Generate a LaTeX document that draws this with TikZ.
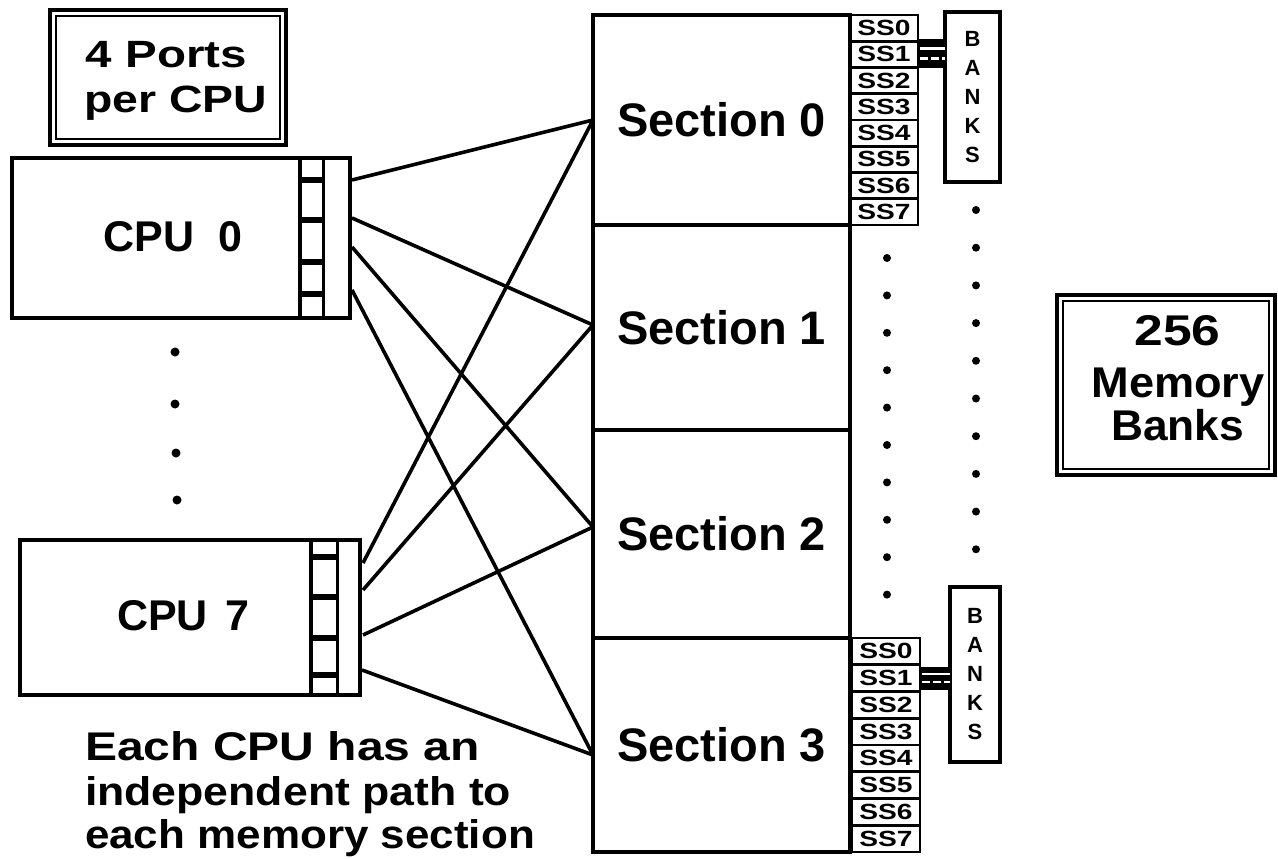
\documentclass[tikz,border=0pt]{standalone}
\usepackage{fontspec}
\setmainfont{Liberation Sans}
\usepackage{graphicx}
\usetikzlibrary{calc}
\newcommand{\wide}[2]{\scalebox{#1}[1]{#2}}
\tikzset{
  every node/.style={inner sep=0pt, outer sep=0pt},
  box/.style={draw, line width=3.5pt},
  cell/.style={draw, line width=2.8pt, minimum width=68pt, font=\fontsize{22}{24}\selectfont\bfseries},
  secbox/.style={box, minimum width=257pt, font=\fontsize{47}{50}\selectfont\bfseries},
  banksbox/.style={box, align=center, font=\fontsize{22}{29}\selectfont\bfseries},
  big/.style={font=\fontsize{43}{44}\selectfont\bfseries},
  link/.style={line width=3.6pt},
  dot/.style={fill=black},
}
\begin{document}
\begin{tikzpicture}[x=1pt,y=-1pt]
\useasboundingbox (0,0) rectangle (1278,859);

% ---- label box: ports per CPU
\node[box, line width=4pt, minimum width=236pt, minimum height=135pt] (ports) at (168,77.5) {};
\draw[line width=1.8pt] ($(ports.north west)+(6,6)$) rectangle ($(ports.south east)+(-6,-6)$);
\node[font=\fontsize{38}{44}\selectfont\bfseries, anchor=base] (portsA) at (166.5,68) {\wide{1.25}{4 Ports}};
\node[font=\fontsize{38}{44}\selectfont\bfseries, anchor=base] (portsB) at (175.5,112) {\wide{1.22}{per CPU}};

% ---- CPU 0
\node[box, minimum width=338pt, minimum height=160pt] (cpu0) at (181,238) {};
\node[big] (cpu0t) at (173,237) {CPU\hspace{24pt}0};
\draw[line width=4.5pt] (300,158) -- (300,318);
\draw[line width=3pt] (323,158) -- (323,318);
\foreach \y in {180,220,262,294} \draw[line width=5.5pt] (300,\y) -- (323,\y);

% ---- CPU 7
\node[box, minimum width=340pt, minimum height=155pt] (cpu7) at (190,617.5) {};
\node[big] (cpu7t) at (183.5,616) {CPU\hspace{18pt}7};
\draw[line width=4.5pt] (311,540) -- (311,695);
\draw[line width=3pt] (337,540) -- (337,695);
\foreach \y in {557,597,638,675} \draw[line width=5.5pt] (311,\y) -- (337,\y);

% ---- dots between the CPUs
\foreach \x/\y [count=\k] in {175/352,175/404,176/453,177/500}
  \fill[dot] (\x,\y) circle (4.5pt) coordinate (cdot\k);

% ---- memory sections
\node[secbox, minimum height=210pt] (sec0) at (721.5,120) {Section 0};
\node[secbox, minimum height=205pt] (sec1) at (721.5,327.5) {Section 1};
\node[secbox, minimum height=208pt] (sec2) at (721.5,534) {Section 2};
\node[secbox, minimum height=214pt] (sec3) at (721.5,745) {Section 3};

% ---- subsection cells
\foreach \i in {0,...,7} {
  \node[cell, minimum height=26.25pt] (ssa\i) at (884,{28.125+26.25*\i}) {\wide{1.28}{SS\i}};
  \node[cell, minimum height=26.75pt] (ssb\i) at (886,{651.375+26.75*\i}) {\wide{1.28}{SS\i}};
}

% ---- bank columns
\node[banksbox, minimum width=55pt, minimum height=170pt] (banksA) at (972.5,97) {B\\A\\N\\K\\S};
\node[banksbox, minimum width=50pt, minimum height=175pt] (banksB) at (975,674.5) {B\\A\\N\\K\\S};

% ---- buses from SS1 to the banks
\coordinate (busA1) at ($(ssa1.east)+(0,-15)$);
\coordinate (busA2) at ($(ssa1.east)+(0,14)$);
\coordinate (wA1) at ($(ssa1.east)+(2,-6)$);
\coordinate (wA2) at (wA1 -| banksA.west);
\coordinate (wA3) at ($(ssa1.east)+(2,4)$);
\coordinate (wA4) at (wA3 -| banksA.west);
\fill (busA1) rectangle (busA2 -| banksA.west);
\draw[white, line width=2.5pt] (wA1) -- (wA2);
\draw[white, line width=2.5pt, dash pattern=on 8pt off 3pt] (wA3) -- (wA4);

\coordinate (busB1) at ($(ssb1.east)+(0,-11)$);
\coordinate (busB2) at ($(ssb1.east)+(0,12)$);
\coordinate (wB1) at ($(ssb1.east)+(2,-4)$);
\coordinate (wB2) at (wB1 -| banksB.west);
\coordinate (wB3) at ($(ssb1.east)+(2,4)$);
\coordinate (wB4) at (wB3 -| banksB.west);
\fill (busB1) rectangle (busB2 -| banksB.west);
\draw[white, line width=2.5pt] (wB1) -- (wB2);
\draw[white, line width=2.5pt, dash pattern=on 8pt off 3pt] (wB3) -- (wB4);

% ---- dotted columns (subsections and banks)
\foreach \k in {0,...,9} {
  \fill[dot] (887,{258+37.4*\k}) circle (4pt);
  \fill[dot] (976,{210+37.7*\k}) circle (4pt);
}

% ---- 256 memory banks box
\node[box, line width=4pt, minimum width=218pt, minimum height=180pt] (mem) at (1166,385) {};
\draw[line width=1.8pt] ($(mem.north west)+(6,6)$) rectangle ($(mem.south east)+(-6,-6)$);
\node[big, anchor=base] (memA) at (1177.5,345) {\wide{1.2}{256}};
\node[big, anchor=base] (memB) at (1178,397) {\wide{1.05}{Memory}};
\node[big, anchor=base] (memC) at (1177.5,440) {\wide{1.03}{Banks}};

% ---- port connections
\coordinate (p00) at (352,180);
\coordinate (p01) at (352,218);
\coordinate (p02) at (352,247);
\coordinate (p03) at (352,290);
\coordinate (p70) at (363,563);
\coordinate (p71) at (363,590);
\coordinate (p72) at (363,635);
\coordinate (p73) at (362,670);
\coordinate (s0) at (593,120);
\coordinate (s1) at (593,325);
\coordinate (s2) at (593,527);
\coordinate (s3) at (593,755);
\draw[link] (p00) -- (s0);
\draw[link] (p01) -- (s1);
\draw[link] (p02) -- (s2);
\draw[link] (p03) -- (s3);
\draw[link] (p70) -- (s0);
\draw[link] (p71) -- (s1);
\draw[link] (p72) -- (s2);
\draw[link] (p73) -- (s3);

% ---- caption
\node[font=\fontsize{40}{44}\selectfont\bfseries, anchor=base west] (capA) at (85,760) {\wide{1.2}{Each CPU has an}};
\node[font=\fontsize{40}{44}\selectfont\bfseries, anchor=base west] (capB) at (85,805) {\wide{1.115}{independent path to}};
\node[font=\fontsize{40}{44}\selectfont\bfseries, anchor=base west] (capC) at (85,848) {\wide{1.1}{each memory section}};
\end{tikzpicture}
\end{document}
